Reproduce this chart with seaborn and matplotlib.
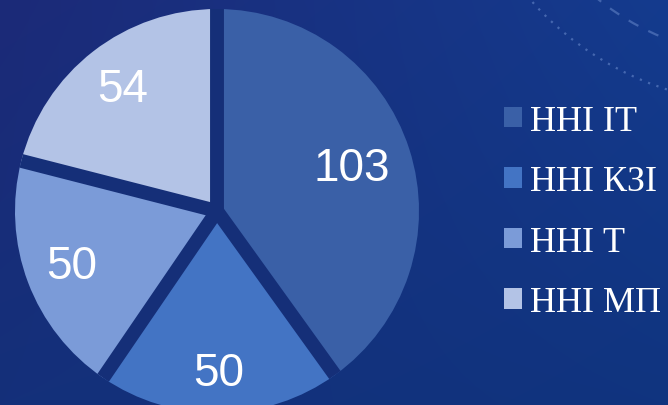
import numpy as np
import seaborn as sns
import matplotlib.pyplot as plt
from matplotlib.patches import Patch, Arc
from matplotlib.colors import to_rgb

# ------------------ Datos ------------------
institutes = ["ННІ ІТ", "ННІ КЗІ", "ННІ Т", "ННІ МП"]
counts = [103, 50, 50, 54]
slice_colors = ["#3a60a7", "#4374c4", "#7b9bd8", "#b3c3e6"]

# ------------------ Estilo ------------------
sns.set_theme(style="white")
plt.rcParams["font.family"] = ["Liberation Sans", "DejaVu Sans"]
palette = sns.color_palette(slice_colors)

W, H = 668, 406
gap_color = "#152f78"

fig = plt.figure(figsize=(W / 100, H / 100), dpi=100)

# fondo degradado
ax_bg = fig.add_axes([0, 0, 1, 1])
tl, tr = np.array(to_rgb("#1c2a78")), np.array(to_rgb("#143b8e"))
bl, br = np.array(to_rgb("#14307a")), np.array(to_rgb("#10347f"))
u = np.linspace(0, 1, W)[None, :, None]
v = np.linspace(0, 1, H)[:, None, None]
grad = (1 - v) * ((1 - u) * tl + u * tr) + v * ((1 - u) * bl + u * br)
ax_bg.imshow(grad, extent=(0, W, 0, H), origin="upper", aspect="auto")
ax_bg.set_axis_off()

# arcos decorativos
ax_bg.add_patch(Arc((760, H + 200), 610, 610, theta1=180, theta2=270,
                    color="#6f8fd0", lw=1.6, ls=(0, (1, 3)), alpha=0.55))
ax_bg.add_patch(Arc((760, H + 200), 515, 515, theta1=180, theta2=270,
                    color="#6f8fd0", lw=1.6, ls=(0, (5, 5)), alpha=0.5))
ax_bg.set_xlim(0, W)
ax_bg.set_ylim(0, H)

# ------------------ Pastel ------------------
ax = fig.add_axes([0, 0, 1, 1])
ax.patch.set_alpha(0)
cx, cy, R = 217, H - 212, 202

wedges, _ = ax.pie(counts, colors=palette, startangle=90, counterclock=False,
                   center=(cx, cy), radius=R, wedgeprops=dict(linewidth=0))

# separadores entre porciones
for w in wedges:
    a = np.deg2rad(w.theta1)
    ax.plot([cx, cx + R * np.cos(a)], [cy, cy + R * np.sin(a)],
            color=gap_color, lw=10, solid_capstyle="butt")

ax.set_xlim(0, W)
ax.set_ylim(0, H)
ax.set_aspect("equal")
ax.set_axis_off()

# etiquetas de valores
label_dist = [0.7, 0.8, 0.77, 0.765]
for w, val, d in zip(wedges, counts, label_dist):
    ang = np.deg2rad((w.theta1 + w.theta2) / 2)
    ax.text(cx + d * R * np.cos(ang), cy + d * R * np.sin(ang), str(val),
            color="white", fontsize=33, ha="center", va="center")

# leyenda
handles = [Patch(facecolor=c, edgecolor="none") for c in palette]
leg = ax.legend(handles, institutes, loc="center left",
                bbox_to_anchor=(504, H - 213), bbox_transform=ax.transData,
                frameon=False, borderpad=0, borderaxespad=0,
                prop={"family": "Liberation Serif", "size": 26},
                labelcolor="white", handlelength=0.5, handleheight=0.5,
                handletextpad=0.22, labelspacing=0.76)

fig.savefig("out.png", dpi=100)
